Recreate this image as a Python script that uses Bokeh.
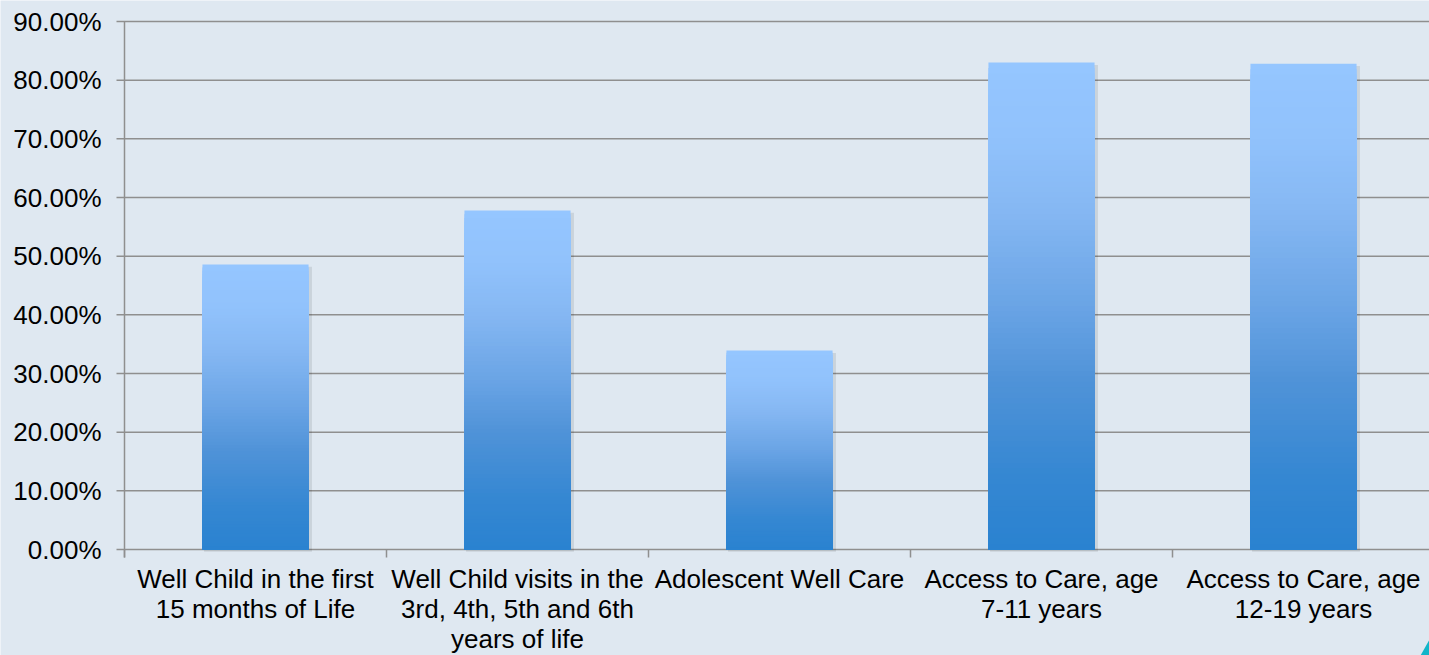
from bokeh.plotting import figure
from bokeh.models import ColumnDataSource
from bokeh.core.properties import value
from bokeh.embed import file_html
from bokeh.resources import INLINE

categories = [
    "Well Child in the first\n15 months of Life",
    "Well Child visits in the\n3rd, 4th, 5th and 6th\nyears of life",
    "Adolescent Well Care",
    "Access to Care, age\n7-11 years",
    "Access to Care, age\n12-19 years",
]
values = [0.486, 0.578, 0.339, 0.830, 0.828]
y_ticks = [0.0, 0.1, 0.2, 0.3, 0.4, 0.5, 0.6, 0.7, 0.8, 0.9]
y_tick_labels = ["0.00%", "10.00%", "20.00%", "30.00%", "40.00%", "50.00%",
                 "60.00%", "70.00%", "80.00%", "90.00%"]

BG = "#DFE8F1"
GRID = "#8F8F8F"
FONT = "Liberation Sans"

W, H = 1429, 655
AXIS_LEFT_PX, TOP_PX, AXIS_BOTTOM_PX = 124, 21, 549
PX_PER_CAT = 262.0
y_per_px = 0.9 / (AXIS_BOTTOM_PX - TOP_PX)
x_per_px = 1.0 / PX_PER_CAT
y_start = -(H - AXIS_BOTTOM_PX) * y_per_px
y_end = 0.9 + TOP_PX * y_per_px
x_start = 0.5 - AXIS_LEFT_PX * x_per_px
x_end = x_start + W * x_per_px
tick_y = 8 * y_per_px
tick_x = 8 * x_per_px

positions = list(range(1, len(categories) + 1))
bar_w = 0.405

p = figure(width=W, height=H, output_backend="svg", toolbar_location=None,
           x_range=(x_start, x_end), y_range=(y_start, y_end),
           min_border=0)
p.background_fill_color = BG
p.border_fill_color = BG
p.outline_line_color = None
p.axis.visible = False
p.grid.visible = False

def hx(c):
    return tuple(int(c[i:i + 2], 16) for i in (1, 3, 5))

# gradient stops, t measured from bar bottom (0) to bar top (1)
stops = [(0.0, "#2A82D0"), (0.15, "#3587D2"), (0.35, "#5093D8"), (0.5, "#6AA4E5"),
         (0.7, "#86B8F3"), (0.85, "#91C2FC"), (1.0, "#95C6FF")]

def grad(t):
    for (t0, c0), (t1, c1) in zip(stops[:-1], stops[1:]):
        if t0 <= t <= t1:
            a, b = hx(c0), hx(c1)
            f = (t - t0) / (t1 - t0)
            return "#%02x%02x%02x" % tuple(int(round(u + (v - u) * f)) for u, v in zip(a, b))
    return stops[-1][1]

# horizontal gridlines (with outward ticks on the value axis)
p.segment(x0=[0.5 - tick_x] * len(y_ticks), y0=y_ticks, x1=[x_end] * len(y_ticks), y1=y_ticks,
          line_color=GRID, line_width=1.5)

# soft shadow
p.quad(left=[x - bar_w / 2 + 0.006 for x in positions], right=[x + bar_w / 2 + 0.013 for x in positions],
       bottom=[-0.004] * len(values), top=[v - 0.004 for v in values],
       fill_color="#000000", fill_alpha=0.09, line_color=None)

# gradient bars: overlapping quads from the top colour down to the bottom colour
N = 90
L, R, B, T, C = [], [], [], [], []
for x, v in zip(positions, values):
    for i in range(N, 0, -1):
        L.append(x - bar_w / 2)
        R.append(x + bar_w / 2)
        B.append(0)
        T.append(v * i / N)
        C.append(grad((i - 0.5) / N))
src = ColumnDataSource(dict(left=L, right=R, bottom=B, top=T, color=C))
p.quad(left="left", right="right", bottom="bottom", top="top", fill_color="color", line_color=None, source=src)

# value axis line and category boundary ticks
p.segment(x0=[0.5], y0=[-tick_y], x1=[0.5], y1=[0.9], line_color=GRID, line_width=1.5)
bounds = [x - 0.5 for x in positions] + [positions[-1] + 0.5]
p.segment(x0=bounds, y0=[0] * len(bounds), x1=bounds, y1=[-tick_y] * len(bounds),
          line_color=GRID, line_width=1.5)

# value tick labels
p.text(x=[0.5] * len(y_ticks), y=y_ticks, text=y_tick_labels, x_offset=-23,
       text_align="right", text_baseline="middle", text_font=value(FONT),
       text_font_size="26px", text_color="#000000")

# category labels
p.text(x=positions, y=[0] * len(positions), text=categories, y_offset=14,
       text_align="center", text_baseline="top", text_font=value(FONT),
       text_font_size="26px", text_line_height=1.0, text_color="#000000")

# decorative corner triangle
p.patch(x=[x_end - 9 * x_per_px, x_end, x_end], y=[y_start, y_start, y_start + 16 * y_per_px],
        fill_color="#12B5C9", line_color=None)

open("out.html", "w").write(file_html(p, INLINE))
